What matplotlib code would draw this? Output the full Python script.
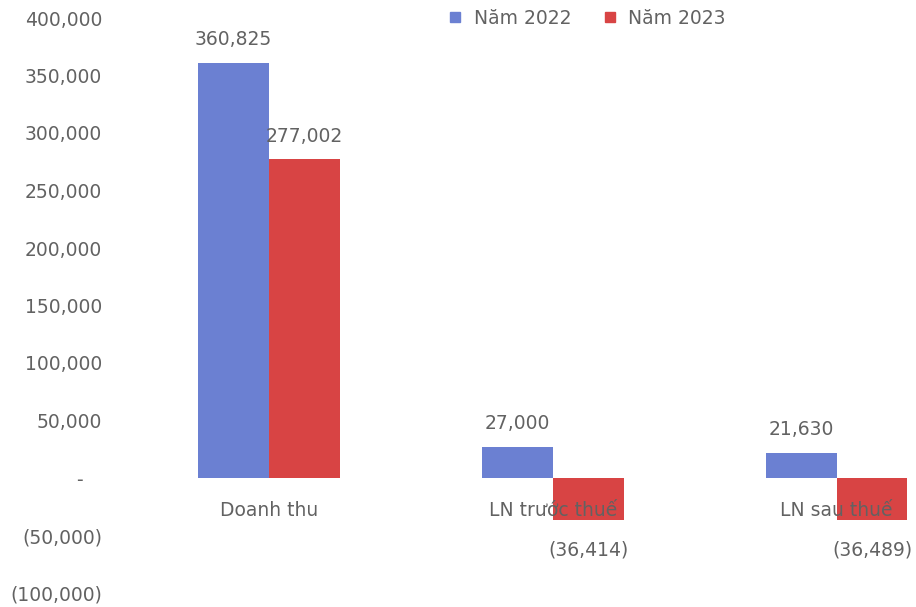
import matplotlib.pyplot as plt
from matplotlib.lines import Line2D
from matplotlib.ticker import FuncFormatter
import numpy as np

categories = ['Doanh thu', 'LN trước thuế', 'LN sau thuế']
series_names = ['Năm 2022', 'Năm 2023']
values_2022 = [360825, 27000, 21630]
values_2023 = [277002, -36414, -36489]
yticks = [-100000, -50000, 0, 50000, 100000, 150000, 200000, 250000, 300000, 350000, 400000]

blue = '#6b80d2'
red = '#d84444'
txt = '#626262'

plt.rcParams['font.family'] = ['DejaVu Sans']
plt.rcParams['font.size'] = 13.5


def fmt_num(v, pos=None):
    if v == 0:
        return '-   '
    if v < 0:
        return '({:,.0f})'.format(-v)
    return '{:,.0f}'.format(v)


fig = plt.figure(figsize=(9.16, 6.07), dpi=100)
ax = fig.add_axes([127 / 916, 14 / 607, 1 - 127 / 916, 575 / 607])

x = np.arange(len(categories))
w = 0.25
b1 = ax.bar(x - w / 2, values_2022, w, color=blue, zorder=2)
b2 = ax.bar(x + w / 2, values_2023, w, color=red, zorder=2)

# value labels, negative ones a bit further below the bar end
for bars, vals in [(b1, values_2022), (b2, values_2023)]:
    for bar, v in zip(bars, vals):
        off = 10 if v > 0 else -15
        ax.annotate(fmt_num(v), (bar.get_x() + bar.get_width() / 2, v),
                    xytext=(0, off), textcoords='offset points', ha='center',
                    va='bottom' if v > 0 else 'top', color=txt)

# category names sit just under zero, on top of the negative bars
for i, c in enumerate(categories):
    ax.text(i, -28000, c, ha='center', va='center', color=txt, zorder=3)

ax.set_xlim(-0.5, 2.28)
ax.set_ylim(-100000, 400000)
ax.set_yticks(yticks)
ax.yaxis.set_major_formatter(FuncFormatter(fmt_num))
ax.tick_params(axis='y', length=0, pad=18, colors=txt)
ax.set_xticks([])
for s in ax.spines.values():
    s.set_visible(False)

handles = [Line2D([], [], marker='s', linestyle='', color=blue, markersize=7),
           Line2D([], [], marker='s', linestyle='', color=red, markersize=7)]
fig.legend(handles, series_names, loc='center', bbox_to_anchor=(588 / 916, 1 - 18 / 607),
           ncol=2, frameon=False, handlelength=0.5, handletextpad=0.75,
           columnspacing=1.8, labelcolor=txt, borderaxespad=0)

plt.savefig('out.png', dpi=100)
